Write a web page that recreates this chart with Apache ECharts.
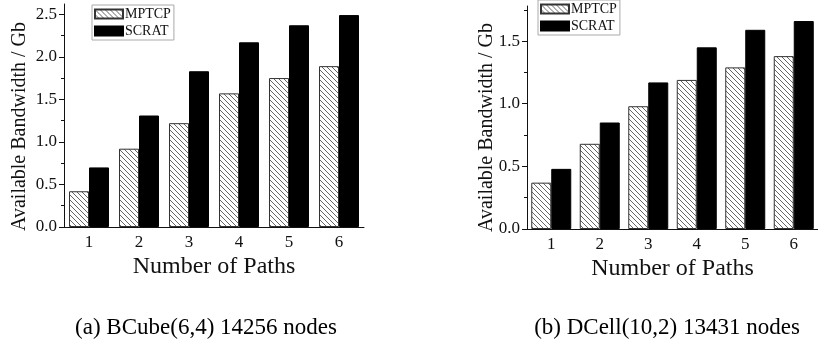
<!DOCTYPE html>
<html>
<head>
<meta charset="utf-8">
<script src="https://cdn.jsdelivr.net/npm/echarts@6/dist/echarts.min.js"></script>
<style>
    html, body { margin: 0; padding: 0; background: #fff; }
    #main { width: 818px; height: 345px; }
</style>
</head>
<body>
<div id="main"></div>
<script>
    // number of paths on the x axis
    var paths = ['1', '2', '3', '4', '5', '6'];
    // (a) BCube
    var mptcpBCube = [0.42, 0.92, 1.22, 1.57, 1.75, 1.89];
    var scratBCube = [0.70, 1.31, 1.83, 2.17, 2.37, 2.49];
    // (b) DCell
    var mptcpDCell = [0.37, 0.68, 0.98, 1.19, 1.29, 1.38];
    var scratDCell = [0.48, 0.85, 1.17, 1.45, 1.59, 1.66];
    // y ticks
    var ticksBCube = [0, 0.5, 1.0, 1.5, 2.0, 2.5];
    var minorBCube = [0.25, 0.75, 1.25, 1.75, 2.25];
    var ticksDCell = [0, 0.5, 1.0, 1.5];
    var minorDCell = [0.25, 0.75, 1.25, 1.75];
    var captions = ['(a) BCube(6,4) 14256 nodes', '(b) DCell(10,2) 13431 nodes'];

    var serif = 'Liberation Serif';
    var ink = '#111';

    // 斜线填充
    function makeHatch() {
        var c = document.createElement('canvas');
        c.width = 5;
        c.height = 5;
        var ctx = c.getContext('2d');
        ctx.fillStyle = '#fff';
        ctx.fillRect(0, 0, 5, 5);
        ctx.strokeStyle = '#555';
        ctx.lineWidth = 0.9;
        ctx.beginPath();
        ctx.moveTo(-1, -1); ctx.lineTo(6, 6);
        ctx.moveTo(-1, 4); ctx.lineTo(1, 6);
        ctx.moveTo(4, -1); ctx.lineTo(6, 1);
        ctx.stroke();
        return c;
    }
    var hatch = {image: makeHatch(), repeat: 'repeat'};

    function mainX(grid) {
        return {
            type: 'category', gridIndex: grid, data: paths, position: 'bottom',
            name: 'Number of Paths', nameLocation: 'middle', nameGap: 28, nameMoveOverlap: false,
            nameTextStyle: {fontFamily: serif, fontSize: 24, color: ink},
            axisLine: {lineStyle: {color: ink, width: 1}},
            axisTick: {alignWithLabel: true, length: 5, lineStyle: {color: ink}},
            axisLabel: {fontFamily: serif, fontSize: 17, color: ink, margin: 7}
        };
    }
    function minorX(grid) {
        return {
            type: 'category', gridIndex: grid, data: paths, position: 'bottom',
            axisLine: {show: false},
            axisTick: {length: 3, lineStyle: {color: ink}},
            axisLabel: {show: false}
        };
    }
    function mainY(grid, max, ticks, gap, shift) {
        return {
            type: 'value', gridIndex: grid, min: 0, max: max, position: 'left',
            name: 'Available Bandwidth / Gb', nameLocation: 'middle', nameGap: gap, nameMoveOverlap: false,
            nameTextStyle: {fontFamily: serif, fontSize: 20, color: ink, padding: [0, shift, 0, 0]},
            axisLine: {show: true, lineStyle: {color: ink, width: 1}},
            axisTick: {show: true, length: 5, customValues: ticks, lineStyle: {color: ink}},
            axisLabel: {
                customValues: ticks, fontFamily: serif, fontSize: 17, color: ink, margin: 7,
                formatter: function (v) { return v.toFixed(1); }
            },
            splitLine: {show: false}
        };
    }
    function minorY(grid, max, ticks) {
        return {
            type: 'value', gridIndex: grid, min: 0, max: max, position: 'left',
            axisLine: {show: false},
            axisTick: {show: true, length: 3, customValues: ticks, lineStyle: {color: ink}},
            axisLabel: {show: false},
            splitLine: {show: false}
        };
    }
    function bars(mp, sc, xi, yi) {
        return [{
            name: 'MPTCP', type: 'bar', xAxisIndex: xi, yAxisIndex: yi, data: mp,
            barWidth: 20, barGap: '0%',
            itemStyle: {color: hatch, borderColor: '#333', borderWidth: 1}
        }, {
            name: 'SCRAT', type: 'bar', xAxisIndex: xi, yAxisIndex: yi, data: sc,
            barWidth: 20, barGap: '0%',
            itemStyle: {color: '#000', borderColor: '#000', borderWidth: 1}
        }];
    }
    function legend(left, top) {
        return {
            data: ['MPTCP', 'SCRAT'], orient: 'vertical', left: left, top: top,
            icon: 'rect', itemWidth: 28, itemHeight: 9, itemGap: 3,
            padding: [2, 3, 2, 2], borderColor: '#aaa', borderWidth: 1,
            textStyle: {fontFamily: serif, fontSize: 14, color: ink, padding: [0, 0, 0, -3]},
            selectedMode: false
        };
    }

    var chart = echarts.init(document.getElementById('main'));
    chart.setOption({
        animation: false,
        grid: [
            {left: 64, top: 4, width: 300, height: 223},
            {left: 527, top: 6, width: 301, height: 223}
        ],
        xAxis: [mainX(0), minorX(0), mainX(1), minorX(1)],
        yAxis: [
            mainY(0, 2.62, ticksBCube, 34, 22), minorY(0, 2.62, minorBCube),
            mainY(1, 1.78, ticksDCell, 30, 20), minorY(1, 1.78, minorDCell)
        ],
        legend: [legend(92, 5), legend(538, 0)],
        series: bars(mptcpBCube, scratBCube, 0, 0).concat(bars(mptcpDCell, scratDCell, 2, 2)),
        graphic: [
            {type: 'text', x: 206, y: 328, style: {text: captions[0], fill: '#000', font: '23px "Liberation Serif"', align: 'center', verticalAlign: 'middle'}},
            {type: 'text', x: 667, y: 328, style: {text: captions[1], fill: '#000', font: '23px "Liberation Serif"', align: 'center', verticalAlign: 'middle'}}
        ]
    });
</script>
</body>
</html>
